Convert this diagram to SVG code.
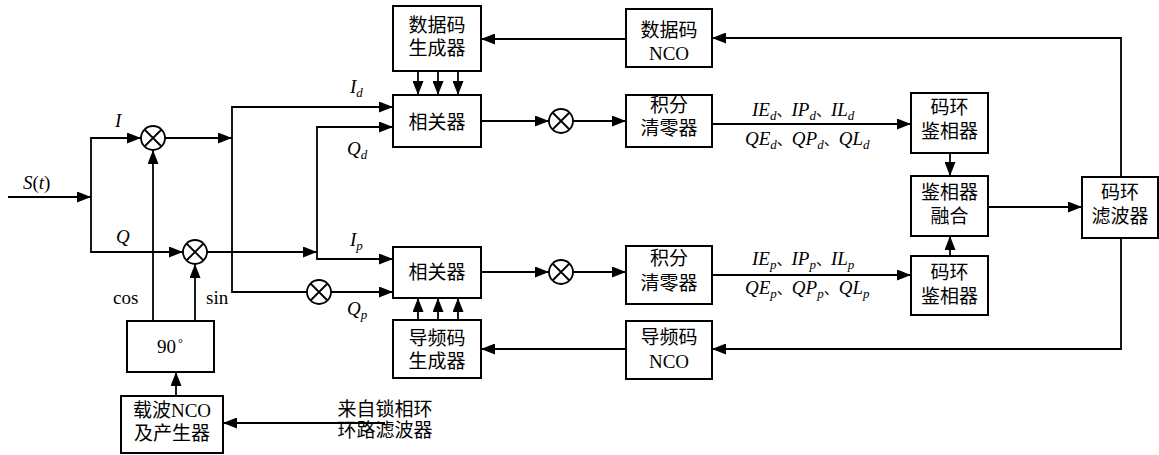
<svg xmlns="http://www.w3.org/2000/svg" width="1159" height="455" viewBox="0 0 1159 455">
<defs>
<marker id="ah" markerWidth="14" markerHeight="11" refX="14" refY="5.5" orient="auto" markerUnits="userSpaceOnUse"><path d="M0,0 L14,5.5 L0,11 z" fill="#000"/></marker>
</defs>
<style>
.box{fill:#fff;stroke:#000;stroke-width:2}
.ln{fill:none;stroke:#000;stroke-width:1.8}
.ar{fill:none;stroke:#000;stroke-width:1.8;marker-end:url(#ah)}
.mul{fill:#fff;stroke:#000;stroke-width:1.8}
.cn{font-family:"Noto Sans CJK SC",sans-serif;font-size:19px;fill:#000;text-anchor:middle}
.lt{font-family:"Liberation Serif",serif;font-size:19px;fill:#000}
.it{font-family:"Liberation Serif",serif;font-size:19px;font-style:italic;fill:#000}
.sub{font-size:13px}
.dun{font-family:"Noto Sans CJK SC",sans-serif;font-style:normal;font-size:15px}
</style>
<rect width="1159" height="455" fill="#fff"/>
<g id="connectors">
<path class="ar" d="M8,197 H91"/>
<path class="ar" d="M91,197 V138 H141"/>
<path class="ar" d="M91,197 V252 H183"/>
<path class="ar" d="M165,138 H232"/>
<path class="ar" d="M232,138 V107 H393"/>
<path class="ln" d="M232,138 V292 H307"/>
<path class="ar" d="M331,292 H393"/>
<path class="ar" d="M207,252 H317"/>
<path class="ar" d="M317,252 V127 H393"/>
<path class="ar" d="M317,252 V259 H393"/>
<path class="ar" d="M153,321 V150"/>
<path class="ar" d="M195,321 V264"/>
<path class="ar" d="M176,396 V372"/>
<path class="ar" d="M385,423 H223"/>
<path class="ar" d="M418,71 V95"/>
<path class="ar" d="M438,71 V95"/>
<path class="ar" d="M458,71 V95"/>
<path class="ar" d="M418,320 V298"/>
<path class="ar" d="M438,320 V298"/>
<path class="ar" d="M458,320 V298"/>
<path class="ar" d="M481,121 H549"/>
<path class="ar" d="M573,121 H626"/>
<path class="ar" d="M481,272 H549"/>
<path class="ar" d="M573,272 H626"/>
<path class="ar" d="M712,124 H911"/>
<path class="ar" d="M712,275 H911"/>
<path class="ar" d="M950,153 V176"/>
<path class="ar" d="M950,256 V236"/>
<path class="ar" d="M988,207 H1082"/>
<path class="ar" d="M1121,177 V38 H712"/>
<path class="ar" d="M1121,238 V349 H712"/>
<path class="ar" d="M626,39 H481"/>
<path class="ar" d="M626,349 H481"/>
</g>
<g id="mixI"><circle class="mul" cx="153" cy="138" r="12"/><path class="ln" d="M144.5,129.5 L161.5,146.5 M161.5,129.5 L144.5,146.5"/></g>
<g id="mixQ"><circle class="mul" cx="195" cy="252" r="12"/><path class="ln" d="M186.5,243.5 L203.5,260.5 M203.5,243.5 L186.5,260.5"/></g>
<g id="mixQp"><circle class="mul" cx="319" cy="292" r="12"/><path class="ln" d="M310.5,283.5 L327.5,300.5 M327.5,283.5 L310.5,300.5"/></g>
<g id="mixD"><circle class="mul" cx="561" cy="121" r="12"/><path class="ln" d="M552.5,112.5 L569.5,129.5 M569.5,112.5 L552.5,129.5"/></g>
<g id="mixP"><circle class="mul" cx="561" cy="272" r="12"/><path class="ln" d="M552.5,263.5 L569.5,280.5 M569.5,263.5 L552.5,280.5"/></g>
<g id="dataGen"><rect class="box" x="393" y="6" width="88" height="65"/><text class="cn" x="437" y="32">数据码</text><text class="cn" x="437" y="55">生成器</text></g>
<g id="corrD"><rect class="box" x="393" y="95" width="88" height="52"/><text class="cn" x="437" y="129">相关器</text></g>
<g id="corrP"><rect class="box" x="393" y="247" width="88" height="51"/><text class="cn" x="437" y="279">相关器</text></g>
<g id="pilotGen"><rect class="box" x="393" y="320" width="88" height="58"/><text class="cn" x="437" y="345">导频码</text><text class="cn" x="437" y="368">生成器</text></g>
<g id="dataNCO"><rect class="box" x="626" y="9" width="86" height="58"/><text class="cn" x="669" y="37">数据码</text><text class="lt" x="669" y="60" text-anchor="middle">NCO</text></g>
<g id="intD"><rect class="box" x="626" y="95" width="86" height="52"/><text class="cn" x="669" y="112">积分</text><text class="cn" x="669" y="135">清零器</text></g>
<g id="intP"><rect class="box" x="626" y="246" width="86" height="58"/><text class="cn" x="669" y="265">积分</text><text class="cn" x="669" y="290">清零器</text></g>
<g id="pilotNCO"><rect class="box" x="626" y="321" width="86" height="58"/><text class="cn" x="669" y="344">导频码</text><text class="lt" x="669" y="368" text-anchor="middle">NCO</text></g>
<g id="discD"><rect class="box" x="911" y="93" width="77" height="60"/><text class="cn" x="949.5" y="114">码环</text><text class="cn" x="949.5" y="138">鉴相器</text></g>
<g id="fusion"><rect class="box" x="911" y="176" width="77" height="60"/><text class="cn" x="949.5" y="199">鉴相器</text><text class="cn" x="949.5" y="223">融合</text></g>
<g id="discP"><rect class="box" x="911" y="256" width="77" height="59"/><text class="cn" x="949.5" y="279">码环</text><text class="cn" x="949.5" y="303">鉴相器</text></g>
<g id="filter"><rect class="box" x="1082" y="177" width="76" height="61"/><text class="cn" x="1120" y="199">码环</text><text class="cn" x="1120" y="223">滤波器</text></g>
<g id="phase90"><rect class="box" x="127" y="321" width="87" height="51"/><text class="lt" x="157" y="353">90<tspan font-size="12" dx="2" dy="-6">°</tspan></text></g>
<g id="carrierNCO"><rect class="box" x="121" y="396" width="102" height="57"/><text class="cn" x="172" y="417">载波<tspan font-family="Liberation Serif">NCO</tspan></text><text class="cn" x="172" y="440">及产生器</text></g>
<g id="labels">
<text class="it" x="23" y="189">S<tspan font-style="normal">(</tspan>t<tspan font-style="normal">)</tspan></text>
<text class="it" x="115" y="127">I</text>
<text class="it" x="116" y="243">Q</text>
<text class="lt" x="113" y="304">cos</text>
<text class="lt" x="206" y="304">sin</text>
<text class="it" x="350" y="93">I<tspan class="sub" dy="4">d</tspan></text>
<text class="it" x="347" y="155">Q<tspan class="sub" dy="4">d</tspan></text>
<text class="it" x="350" y="246">I<tspan class="sub" dy="4">p</tspan></text>
<text class="it" x="347" y="315">Q<tspan class="sub" dy="4">p</tspan></text>
<text class="it" x="752" y="116">IE<tspan class="sub" dy="4">d</tspan><tspan class="dun" dy="-4">、</tspan>IP<tspan class="sub" dy="4">d</tspan><tspan class="dun" dy="-4">、</tspan>IL<tspan class="sub" dy="4">d</tspan></text>
<text class="it" x="745" y="145">QE<tspan class="sub" dy="4">d</tspan><tspan class="dun" dy="-4">、</tspan>QP<tspan class="sub" dy="4">d</tspan><tspan class="dun" dy="-4">、</tspan>QL<tspan class="sub" dy="4">d</tspan></text>
<text class="it" x="752" y="265">IE<tspan class="sub" dy="4">p</tspan><tspan class="dun" dy="-4">、</tspan>IP<tspan class="sub" dy="4">p</tspan><tspan class="dun" dy="-4">、</tspan>IL<tspan class="sub" dy="4">p</tspan></text>
<text class="it" x="745" y="294">QE<tspan class="sub" dy="4">p</tspan><tspan class="dun" dy="-4">、</tspan>QP<tspan class="sub" dy="4">p</tspan><tspan class="dun" dy="-4">、</tspan>QL<tspan class="sub" dy="4">p</tspan></text>
<text class="cn" x="385" y="416" text-anchor="start">来自锁相环</text>
<text class="cn" x="385" y="437" text-anchor="start">环路滤波器</text>
</g>
</svg>
